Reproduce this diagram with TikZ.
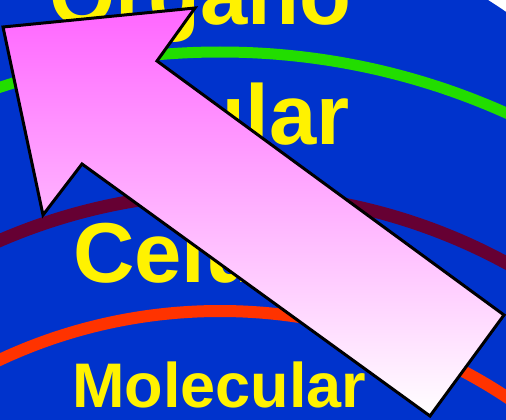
\documentclass[tikz,border=0pt]{standalone}
\usepackage{fontspec}
\setmainfont{Liberation Sans}
\definecolor{bgblue}{RGB}{0,51,204}
\definecolor{ringgreen}{RGB}{34,221,0}
\definecolor{ringwine}{RGB}{102,0,51}
\definecolor{ringred}{RGB}{255,51,0}
\definecolor{arrowpink}{RGB}{255,102,255}

\begin{document}
\begin{tikzpicture}[
    x=1pt, y=-1pt,
    level/.style={anchor=base west, inner sep=0pt, text=yellow, font=\bfseries\fontsize{85}{90}\selectfont},
    small level/.style={level, font=\bfseries\fontsize{63}{70}\selectfont},
    ring/.style={line width=12pt},
    bigarrow/.style={draw=black, line width=3pt, top color=arrowpink, bottom color=white}
]
\useasboundingbox (0,0) rectangle (506,420);
\clip (0,0) rectangle (506,420);
\fill[white] (0,0) rectangle (506,420);
\fill[bgblue] (167,507) circle (600pt);
\draw[ring, ringgreen, line width=11pt] (220,752) circle (700pt);
\draw[ring, ringwine, line width=13pt] (230,773) circle (580pt);
\draw[ring, ringred] (220,831) circle (520pt);
\node[level] (organ) at (49,25) {Organo};
\node[level] (tissue) at (72,144) {Tisular};
\node[level] (cell) at (73,282) {Celular};
\node[small level] (molecule) at (72,407) {Molecular};
\filldraw[bigarrow] (3,27) -- (195,8) -- (157,61) -- (504,315) -- (430,416) -- (82,164) -- (43,215) -- cycle;
\end{tikzpicture}
\end{document}
